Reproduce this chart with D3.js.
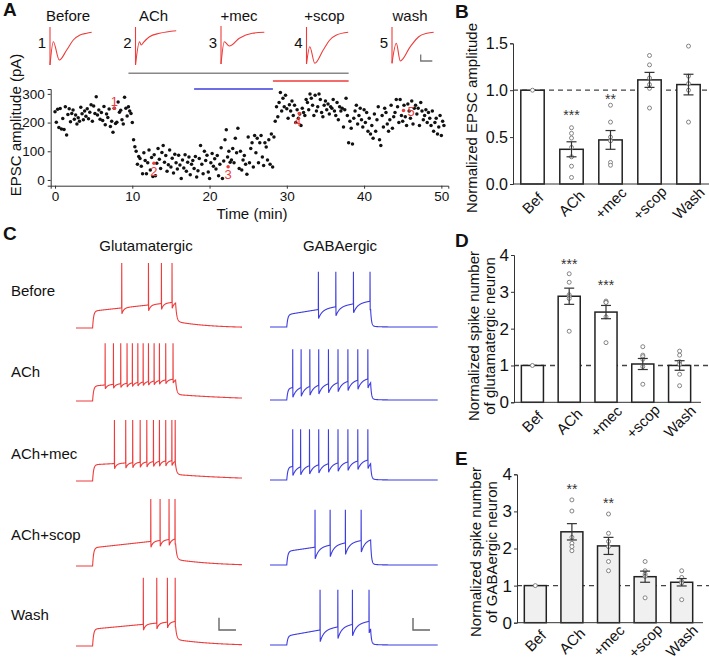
<!DOCTYPE html>
<html><head><meta charset="utf-8">
<script src="https://cdn.jsdelivr.net/npm/d3@7"></script>
<style>
body{margin:0;background:#fff}
svg{display:block;font-family:"Liberation Sans",Arial,sans-serif}
</style></head><body><svg id="fig" width="709" height="661"></svg>
<script>
// ================= DATA =================
// Panel A – EPSC amplitude time course (one sweep every 10 s)
const sampleIntervalMin = 1 / 6;
const epscAmplitude = [
 238,201,246,183,249,178, 214,176,255,157,228,248, 203,232,244,212,226,195,
 217,205,253,231,210,240, 222,248,213,236,262,205, 258,232,290,226,244,212,
 235,207,256,192,230,218, 247,186,205,166,250,197, 201,272,236,243,210,195,
 288,250,223,255,240,232, 200,140,116,100,55,82, 75,48,22,95,68,22,
 60,104,35,78,12,88, 15,58,110,72,40,96, 120,62,85,30,53,104,
 45,76,24,90,60,38, 86,52,5,70,42,88, 30,62,80,18,55,68,
 40,82,10,32,75,120, 55,22,100,68,86,28, 5,60,92,48,74,38,
 85,15,55,112,5,66, 140,175,80,100,62,70, 110,60,145,95,180,40,
 100,35,70,85,55,20, 150,60,110,130,45,155, 95,145,60,130,155,80,
 50,130,115,70,140,55, 160,45,150,205,255,220, 270,305,240,285,255,295,
 248,215,262,240,275,225, 260,200,245,215,230,190, 250,235,225,280,270,245,
 300,285,260,225,295,240, 255,300,280,235,220,260, 275,245,265,230,255,250,
 280,240,225,270,210,255, 240,250,185,245,285,225, 130,205,180,125,215,240,
 260,195,225,250,210,185, 245,200,235,170,215,160, 190,145,230,170,210,255,
 140,120,225,185,250,235, 195,170,210,260,180,220, 235,280,255,200,280,225,
 205,260,220,190,265,240, 215,275,195,250,260,230, 250,190,270,240,210,225,
 245,200,235,215,190,240, 170,200,215,160,185,225, 155,205,190
];
const markerLabels = ["1", "2", "3", "4", "5"];
const markerTimes = [7.67, 12.8, 22.4, 31.6, 45.1];
const markerValues = [250, 58, 46, 232, 242];
const drugNames = ["ACh", "+mec", "+scop"];
const drugStart = [9.5, 18, 28.2];
const drugEnd = [38, 28.2, 38];

// Panel A – example EPSC traces (ms, pA relative to baseline)
const epscConditions = ["Before", "ACh", "+mec", "+scop", "wash"];
const epscTraceTime = [
 [0, 0, 3.3, 9.3, 16.7, 23.3, 30, 36.7, 41.7],
 [0, 0, 4, 5.7, 8, 14, 24, 40.7],
 [0, 0, 3.3, 8.3, 18.3, 31.3, 43.3],
 [0, 0, 3.3, 8.3, 16.7, 23.3, 30, 41.7],
 [0, 0, 4.3, 8.3, 18.3, 26.7, 35, 41.7]
];
const epscTraceCurrent = [
 [50, -330, -97, -280, -180, -80, -30, -13, -3],
 [50, -330, -97, -130, -103, -47, -13, 13],
 [60, -320, -97, -140, -63, -13, -3],
 [50, -320, -147, -313, -180, -80, -30, -3],
 [50, -313, -113, -290, -147, -47, -13, -3]
];

// Panels B, D, E – bar charts
const barCategories = ["Bef", "ACh", "+mec", "+scop", "Wash"];
const epscNormMean = [1.0, 0.37, 0.47, 1.11, 1.06];
const epscNormSem = [0, 0.08, 0.10, 0.08, 0.11];
const epscNormPoints = [[1.0], [0.60, 0.54, 0.49, 0.39, 0.29, 0.19, 0.07], [0.84, 0.66, 0.50, 0.46, 0.23, 0.20], [1.37, 1.27, 1.13, 1.06, 1.02, 0.81], [1.47, 1.15, 1.07, 1.0, 0.66]];
const epscNormStars = ["", "***", "**", "", ""];

const glutSpikeMean = [1.0, 2.88, 2.45, 1.04, 1.0];
const glutSpikeSem = [0, 0.22, 0.18, 0.15, 0.13];
const glutSpikePoints = [[1.0], [3.49, 3.26, 2.92, 2.87, 2.82, 1.93], [2.75, 2.72, 2.71, 2.32, 1.62], [1.51, 1.28, 1.24, 1.17, 0.97, 0.49], [1.39, 1.28, 1.10, 1.03, 0.76, 0.45]];
const glutSpikeStars = ["", "***", "***", "", ""];

const gabaSpikeMean = [1.0, 2.45, 2.07, 1.24, 1.09];
const gabaSpikeSem = [0, 0.22, 0.23, 0.15, 0.10];
const gabaSpikePoints = [[1.0], [3.31, 3.01, 2.30, 2.14, 2.05, 1.94], [2.93, 2.41, 2.19, 2.05, 1.65, 1.40], [1.65, 1.40, 1.31, 1.25, 0.67], [1.40, 1.22, 1.11, 1.07, 0.62]];
const gabaSpikeStars = ["", "**", "**", "", ""];

// Panel C – current-clamp recordings (spike times in ms, 500 ms step from 100 to 600 ms)
const rowNames = ["Before", "ACh", "ACh+mec", "ACh+scop", "Wash"];
const glutSpikeTimes = [
 [275, 436, 514, 578],
 [175, 225, 269, 307, 339, 372, 404, 436, 470, 502, 540, 584],
 [231, 299, 341, 386, 426, 466, 502, 540, 577, 597],
 [450, 506, 560, 596],
 [405, 486, 550, 597]
];
const gabaSpikeTimes = [
 [288, 392, 497, 596],
 [135, 185, 237, 290, 348, 405, 464, 523, 583],
 [135, 182, 235, 290, 348, 405, 464, 523, 583],
 [268, 358, 449, 543],
 [298, 404, 491, 590]
];
const glutPlateauStart = [-44, -47, -45, -42, -44];
const glutPlateauEnd = [-30, -36, -38, -28, -32];
const glutAhp = [9, 6, 8, 9, 9];
const glutPeak = [30, 19, 24, 33, 35];
const glutTailTau = [200, 500, 500, 250, 250];
const gabaPlateauStart = [-51, -52, -50, -49, -56];
const gabaPlateauEnd = [-30, -36, -38, -30, -33];
const gabaAhp = [14, 15, 14, 18, 18];
const gabaPeak = [15, 8, 8, 15, 15];

// ================= DRAWING =================
const svg = d3.select("#fig");
const RED = "#ee3b3b", BLUE = "#3c3ce0", TXT = "#111";
const FONT = 15;

function panelLetter(t, x, y) {
  svg.append("text").attr("x", x).attr("y", y).attr("font-size", 19).attr("font-weight", "bold").attr("fill", TXT).text(t);
}
panelLetter("A", 3, 16); panelLetter("B", 455, 18); panelLetter("C", 3, 240); panelLetter("D", 455, 247); panelLetter("E", 455, 465);

// ---------- Panel A : example traces ----------
const traceX0 = d3.scalePoint().domain(epscConditions).range([50, 392]);
const epscTx = d3.scaleLinear().domain([0, 1]).range([0, 1]);
const epscY = d3.scaleLinear().domain([0, -400]).range([32, 72]);
epscConditions.forEach((c, i) => {
  const x0 = traceX0(c);
  svg.append("text").attr("x", x0 + 18).attr("y", 15).attr("text-anchor", "middle").attr("dominant-baseline", "central")
    .attr("font-size", FONT).attr("fill", TXT).text(c);
  svg.append("text").attr("x", x0 - 8).attr("y", 42).attr("text-anchor", "middle").attr("dominant-baseline", "central")
    .attr("font-size", FONT).attr("fill", TXT).text(String(i + 1));
  const pts = epscTraceTime[i].map((t, j) => [t, epscTraceCurrent[i][j]]);
  const lx = d => x0 + epscTx(d[0]);
  svg.append("path").attr("d", d3.line().x(lx).y(d => epscY(d[1]))(pts.slice(0, 2)))
    .attr("fill", "none").attr("stroke", RED).attr("stroke-width", 1.1);
  svg.append("path").attr("d", d3.line().x(lx).y(d => epscY(d[1])).curve(d3.curveMonotoneX)(pts.slice(1)))
    .attr("fill", "none").attr("stroke", RED).attr("stroke-width", 1.1);
});
// scale bar
svg.append("path").attr("d", "M420.7,54.5V61H432.3").attr("fill", "none").attr("stroke", "#777").attr("stroke-width", 1.3);

// ---------- Panel A : time course ----------
const ax = d3.scaleLinear().domain([-0.56, 50.9]).range([50.7, 448.3]);
const ay = d3.scaleLinear().domain([-20, 317]).range([185.7, 89]);
const drugColors = ["#888", BLUE, RED];
const drugY = [73.3, 89, 81];
drugNames.forEach((d, i) => {
  svg.append("line").attr("x1", ax(drugStart[i])).attr("x2", ax(drugEnd[i])).attr("y1", drugY[i]).attr("y2", drugY[i])
    .attr("stroke", drugColors[i]).attr("stroke-width", 1.5);
});
const gAx = svg.append("g").attr("transform", `translate(0,${ay(-20)})`)
  .call(d3.axisBottom(ax).tickValues([0, 10, 20, 30, 40, 50]).tickSize(3).tickPadding(3));
const gAy = svg.append("g").attr("transform", `translate(${ax(-0.56)},0)`)
  .call(d3.axisLeft(ay).tickValues([0, 100, 200, 300]).tickSize(3).tickPadding(3));
[gAx, gAy].forEach(g => { g.selectAll("text").attr("font-size", 13.5).attr("fill", TXT).attr("font-family", "Liberation Sans, Arial, sans-serif"); g.selectAll("path,line").attr("stroke", "#333"); });
svg.append("g").selectAll("circle").data(epscAmplitude).join("circle")
  .attr("cx", (d, i) => ax(i * sampleIntervalMin)).attr("cy", d => ay(d)).attr("r", 1.75).attr("fill", "#111");
markerLabels.forEach((m, i) => {
  const cx = ax(markerTimes[i]), cy = ay(markerValues[i]);
  svg.append("circle").attr("cx", cx).attr("cy", cy).attr("r", 1.75).attr("fill", RED);
  let lx = cx, ly = cy + 8;
  if (i === 0) ly = cy - 7;
  if (i === 3) { lx = cx - 1.5; ly = cy + 8; }
  if (i === 4) { lx = cx + 4; ly = cy + 1; }
  svg.append("text").attr("x", lx).attr("y", ly).attr("text-anchor", i === 4 ? "start" : "middle").attr("dominant-baseline", "central")
    .attr("font-size", 13).attr("fill", RED).text(m);
});
svg.append("text").attr("transform", "translate(15,125) rotate(-90)").attr("text-anchor", "middle").attr("dominant-baseline", "central")
  .attr("font-size", FONT).attr("fill", TXT).text("EPSC amplitude (pA)");
svg.append("text").attr("x", 252).attr("y", 213).attr("text-anchor", "middle").attr("dominant-baseline", "central")
  .attr("font-size", FONT).attr("fill", TXT).text("Time (min)");

// ---------- Bar panels ----------
function barPanel(o) {
  const x = d3.scaleBand().domain(barCategories).range(o.xr).paddingInner(0.4).paddingOuter(0.2);
  const y = d3.scaleLinear().domain(o.yd).range(o.yr);
  const g = svg.append("g");
  g.append("line").attr("x1", o.xr[0]).attr("x2", 709).attr("y1", y(1)).attr("y2", y(1))
    .attr("stroke", "#444").attr("stroke-width", 1.3).attr("stroke-dasharray", "5,4");
  barCategories.forEach((c, i) => {
    const cx = x(c) + x.bandwidth() / 2;
    g.append("rect").attr("x", x(c)).attr("width", x.bandwidth()).attr("y", y(o.mean[i])).attr("height", y(0) - y(o.mean[i]))
      .attr("fill", o.fill).attr("stroke", "#222").attr("stroke-width", 1.5);
    o.points[i].forEach(v => g.append("circle").attr("cx", cx).attr("cy", y(v)).attr("r", 2).attr("fill", "#fff").attr("stroke", "#777").attr("stroke-width", 0.9));
    if (o.sem[i] > 0) {
      const lo = y(o.mean[i] - o.sem[i]), hi = y(o.mean[i] + o.sem[i]);
      g.append("line").attr("x1", cx).attr("x2", cx).attr("y1", lo).attr("y2", hi).attr("stroke", "#333").attr("stroke-width", 1.2);
      [lo, hi].forEach(yy => g.append("line").attr("x1", cx - 5).attr("x2", cx + 5).attr("y1", yy).attr("y2", yy).attr("stroke", "#333").attr("stroke-width", 1.2));
    }
    if (o.stars[i]) g.append("text").attr("x", cx).attr("y", o.starY[i] + 7.5).attr("text-anchor", "middle").attr("font-size", 14).attr("fill", "#333").text(o.stars[i]);
    g.append("text").attr("transform", `translate(${cx},${y(0) + o.labOff}) rotate(-45)`).attr("text-anchor", "middle").attr("dominant-baseline", "central")
      .attr("font-size", FONT).attr("fill", TXT).text(c);
  });
  const gy = g.append("g").attr("transform", `translate(${o.xr[0]},0)`).call(d3.axisLeft(y).tickValues(o.ticks).tickFormat(o.fmt).tickSize(3).tickPadding(2));
  gy.selectAll("text").attr("font-size", o.tickFont).attr("fill", TXT).attr("font-family", "Liberation Sans, Arial, sans-serif");
  gy.selectAll("path,line").attr("stroke", "#333");
  g.append("line").attr("x1", o.xr[0]).attr("x2", o.axisEnd).attr("y1", y(0)).attr("y2", y(0)).attr("stroke", "#333").attr("stroke-width", 1);
  o.ylab.forEach((t, k) => {
    g.append("text").attr("transform", `translate(${o.ylabX[k]},${o.ylabY}) rotate(-90)`).attr("text-anchor", "middle").attr("dominant-baseline", "central")
      .attr("font-size", FONT).attr("fill", TXT).text(t);
  });
}
barPanel({xr: [513, 708], yd: [0, 1.5], yr: [184, 43.3], mean: epscNormMean, sem: epscNormSem, points: epscNormPoints, stars: epscNormStars,
  starY: [0, 112.7, 96.7, 0, 0], fill: "#fff", labOff: 19, ticks: [0, 0.5, 1, 1.5], fmt: d3.format(".1f"), tickFont: 16, axisEnd: 709,
  ylab: ["Normalized EPSC amplitude"], ylabX: [471], ylabY: 118});
barPanel({xr: [514, 698], yd: [0, 4], yr: [402.3, 255], mean: glutSpikeMean, sem: glutSpikeSem, points: glutSpikePoints, stars: glutSpikeStars,
  starY: [0, 261.7, 282.7, 0, 0], fill: "#fff", labOff: 19, ticks: [0, 1, 2, 3, 4], fmt: d3.format("d"), tickFont: 17, axisEnd: 701,
  ylab: ["Normalized spike number", "of glutamatergic neuron"], ylabX: [473, 489], ylabY: 336});
barPanel({xr: [517, 700], yd: [0, 4], yr: [622.7, 474.3], mean: gabaSpikeMean, sem: gabaSpikeSem, points: gabaSpikePoints, stars: gabaSpikeStars,
  starY: [0, 486.7, 500, 0, 0], fill: "#f0f0f0", labOff: 18, ticks: [0, 1, 2, 3, 4], fmt: d3.format("d"), tickFont: 17, axisEnd: 703,
  ylab: ["Normalized spike number", "of GABAergic neuron"], ylabX: [475, 491], ylabY: 552});

// ---------- Panel C : spike traces ----------
const STIM_ON = 100, STIM_OFF = 600, REST = -70;
function membraneTrace(spikes, p) {
  const plateau = t => p.pStart + (p.pEnd - p.pStart) * (t - STIM_ON) / (STIM_OFF - STIM_ON);
  const depol = t => REST + (plateau(t) - REST) * (1 - Math.exp(-(t - STIM_ON) / 6));
  const vIn = t => {
    let last = null;
    for (const s of spikes) if (s + 1.5 <= t) last = s;
    let v = depol(t);
    if (last !== null) v -= p.ahp * Math.exp(-(t - last - 1.5) / p.recTau);
    return v;
  };
  const vOff = vIn(STIM_OFF);
  const vAfter = t => { const d = t - STIM_OFF; return REST + (vOff - REST - p.tailAmp) * Math.exp(-d / p.fastTau) + p.tailAmp * Math.exp(-d / p.tailTau); };
  const pts = [];
  let si = 0, skipUntil = -1;
  for (let t = 0; t <= 1000; t += 1) {
    while (si < spikes.length && spikes[si] <= t) {
      const s = spikes[si];
      pts.push([s, vIn(s - 0.01)]); pts.push([s + 0.5, p.peak]); pts.push([s + 1.5, s + 1.5 <= STIM_OFF ? vIn(s + 1.5) : vAfter(s + 1.5)]);
      skipUntil = s + 1.5; si++;
    }
    if (t <= skipUntil) continue;
    let v;
    if (t < STIM_ON) v = REST;
    else if (t <= STIM_OFF) v = vIn(t);
    else v = vAfter(t);
    pts.push([t, v]);
  }
  return pts;
}
const rowY = [328, 401, 481, 566, 646];
const rowLabelY = [290, 371, 453, 534, 614];
const glutX = d3.scaleLinear().domain([0, 1000]).range([76, 242]);
const gabaX = d3.scaleLinear().domain([0, 1000]).range([270, 437.7]);
svg.append("text").attr("x", 146).attr("y", 245).attr("text-anchor", "middle").attr("dominant-baseline", "central").attr("font-size", FONT).attr("fill", TXT).text("Glutamatergic");
svg.append("text").attr("x", 340).attr("y", 245).attr("text-anchor", "middle").attr("dominant-baseline", "central").attr("font-size", FONT).attr("fill", TXT).text("GABAergic");
rowNames.forEach((r, i) => {
  svg.append("text").attr("x", 11).attr("y", rowLabelY[i]).attr("dominant-baseline", "central").attr("font-size", FONT).attr("fill", TXT).text(r);
  const vy = d3.scaleLinear().domain([-70, 30]).range([rowY[i], rowY[i] - 65]);
  const gl = membraneTrace(glutSpikeTimes[i], {pStart: glutPlateauStart[i], pEnd: glutPlateauEnd[i], ahp: glutAhp[i], peak: glutPeak[i], recTau: 12, tailAmp: 10, tailTau: glutTailTau[i], fastTau: 7});
  svg.append("path").attr("d", d3.line().x(d => glutX(d[0])).y(d => vy(d[1]))(gl)).attr("fill", "none").attr("stroke", RED).attr("stroke-width", 1.1);
  const vy2 = d3.scaleLinear().domain([-70, 30]).range([rowY[i] - 1, rowY[i] - 66]);
  const ga = membraneTrace(gabaSpikeTimes[i], {pStart: gabaPlateauStart[i], pEnd: gabaPlateauEnd[i], ahp: gabaAhp[i], peak: gabaPeak[i], recTau: 22, tailAmp: 1.5, tailTau: 40, fastTau: 5});
  svg.append("path").attr("d", d3.line().x(d => gabaX(d[0])).y(d => vy2(d[1]))(ga)).attr("fill", "none").attr("stroke", BLUE).attr("stroke-width", 1.1);
});
svg.append("path").attr("d", "M219,617.7V630H236").attr("fill", "none").attr("stroke", "#666").attr("stroke-width", 1.4);
svg.append("path").attr("d", "M413,618V630H430").attr("fill", "none").attr("stroke", "#666").attr("stroke-width", 1.4);
</script></body></html>
